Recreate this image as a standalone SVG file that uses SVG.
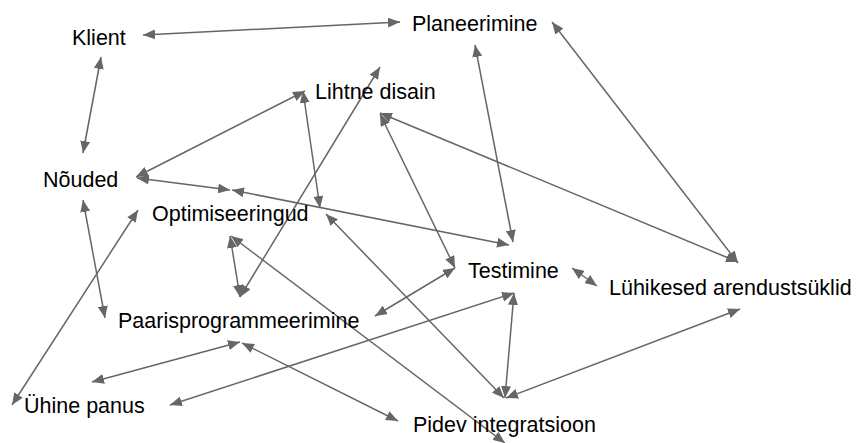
<svg xmlns="http://www.w3.org/2000/svg" width="858" height="443" viewBox="0 0 858 443">
  <defs>
    <marker id="arrow" viewBox="0 0 12 10" refX="12" refY="5" markerWidth="12" markerHeight="10" markerUnits="userSpaceOnUse" orient="auto-start-reverse">
      <path d="M0,0 L12,5 L0,10 z" fill="#666"/>
    </marker>
  </defs>
  <style>
    .edge { stroke: #666; stroke-width: 1.5; fill: none; marker-start: url(#arrow); marker-end: url(#arrow); }
    .label { font-family: "Liberation Sans", Arial, sans-serif; font-size: 21.5px; fill: #000; }
  </style>
  <rect width="858" height="443" fill="#fff"/>

  <g id="connectors">
    <line class="edge" x1="143" y1="35" x2="400" y2="22"/>
    <line class="edge" x1="101" y1="57" x2="83" y2="153"/>
    <line class="edge" x1="136" y1="177" x2="305" y2="91"/>
    <line class="edge" x1="137" y1="178" x2="230" y2="190"/>
    <line class="edge" x1="232" y1="190" x2="509" y2="245"/>
    <line class="edge" x1="475" y1="45" x2="513" y2="242"/>
    <line class="edge" x1="552" y1="22" x2="738" y2="263"/>
    <line class="edge" x1="380" y1="113" x2="738" y2="262"/>
    <line class="edge" x1="380" y1="114" x2="455" y2="268"/>
    <line class="edge" x1="303" y1="91" x2="320" y2="208"/>
    <line class="edge" x1="240" y1="297" x2="380" y2="67"/>
    <line class="edge" x1="230" y1="236" x2="240" y2="297"/>
    <line class="edge" x1="231" y1="236" x2="505" y2="443"/>
    <line class="edge" x1="326" y1="214" x2="504" y2="398"/>
    <line class="edge" x1="514" y1="293" x2="505" y2="398"/>
    <line class="edge" x1="740" y1="309" x2="506" y2="398"/>
    <line class="edge" x1="572" y1="268" x2="597" y2="286"/>
    <line class="edge" x1="375" y1="316" x2="455" y2="268"/>
    <line class="edge" x1="138" y1="210" x2="12" y2="405"/>
    <line class="edge" x1="83" y1="200" x2="105" y2="318"/>
    <line class="edge" x1="92" y1="382" x2="240" y2="342"/>
    <line class="edge" x1="242" y1="343" x2="398" y2="421"/>
    <line class="edge" x1="170" y1="405" x2="514" y2="293"/>
  </g>

  <g id="klient"><text class="label" x="72" y="45">Klient</text></g>
  <g id="planeerimine"><text class="label" x="412" y="31">Planeerimine</text></g>
  <g id="lihtne-disain"><text class="label" x="315" y="99">Lihtne disain</text></g>
  <g id="nouded"><text class="label" x="43" y="187">Nõuded</text></g>
  <g id="optimiseeringud"><text class="label" x="152" y="221">Optimiseeringud</text></g>
  <g id="testimine"><text class="label" x="468" y="278">Testimine</text></g>
  <g id="luhikesed-arendustsuklid"><text class="label" x="609" y="295">Lühikesed arendustsüklid</text></g>
  <g id="paarisprogrammeerimine"><text class="label" x="118" y="328">Paarisprogrammeerimine</text></g>
  <g id="uhine-panus"><text class="label" x="24" y="413">Ühine panus</text></g>
  <g id="pidev-integratsioon"><text class="label" x="413" y="432">Pidev integratsioon</text></g>
</svg>
